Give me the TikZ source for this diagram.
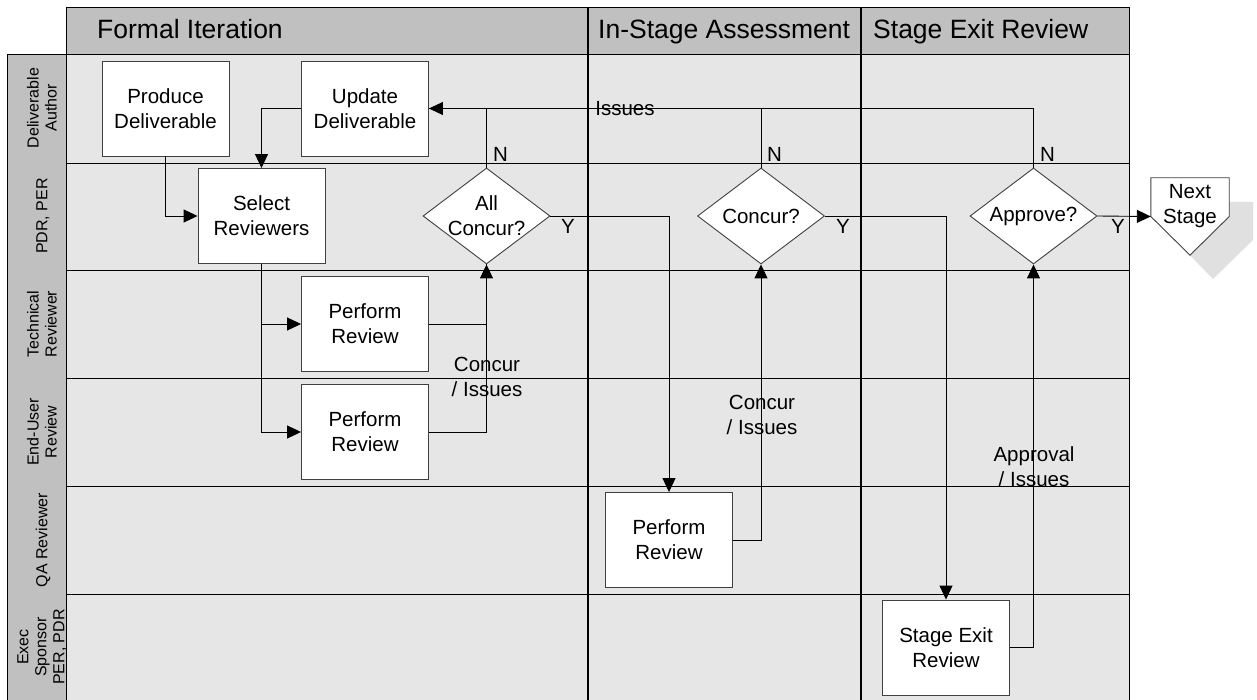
\documentclass[tikz,border=0pt]{standalone}
\usepackage{fontspec}
\setmainfont{Liberation Sans}
\usetikzlibrary{arrows.meta,shapes.geometric}
\definecolor{hdr}{HTML}{C0C0C0}
\definecolor{lanebg}{HTML}{E6E6E6}
\definecolor{bord}{HTML}{404040}
\definecolor{shad}{HTML}{E0E0E0}
\begin{document}
\begin{tikzpicture}[x=1pt,y=-1pt,
  box/.style={draw=bord, fill=white, line width=0.9pt, minimum width=127pt, minimum height=95pt, inner sep=0pt, align=center, font=\fontsize{20.5}{25}\selectfont},
  dia/.style={diamond, draw=bord, fill=white, line width=0.9pt, minimum width=127pt, minimum height=96pt, inner sep=0pt},
  txt/.style={align=center, font=\fontsize{20.5}{25}\selectfont, inner sep=0pt},
  lanelbl/.style={rotate=90, align=center, font=\fontsize{16}{18}\selectfont, inner sep=0pt},
  hdrtxt/.style={anchor=base west, font=\fontsize{26.5}{30}\selectfont, inner sep=0pt},
  conn/.style={line width=0.9pt, -{Triangle[length=14pt,width=13pt]}},
  plainln/.style={line width=0.9pt}
]
\useasboundingbox (0,0) rectangle (1257,700);
% backgrounds
\fill[lanebg] (66,54) rectangle (1129,705);
\filldraw[fill=hdr, draw=black, line width=0.8pt] (66,7) rectangle (1129,54);
\filldraw[fill=hdr, draw=black, line width=0.8pt] (7,54) rectangle (66,705);
\foreach \yy in {163,270,378,486,594} \draw[line width=0.8pt] (66,\yy) -- (1129,\yy);
\draw[line width=0.8pt] (1129,54) -- (1129,705);
\draw[line width=1.8pt] (588,7) -- (588,705);
\draw[line width=1.8pt] (861,7) -- (861,705);
% headers
\node[hdrtxt] (h1) at (97,39) {Formal Iteration};
\node[hdrtxt] (h2) at (598,39) {In-Stage Assessment};
\node[hdrtxt] (h3) at (873,39) {Stage Exit Review};
% lane labels
\node[lanelbl] (l1) at (42,108) {Deliverable\\Author};
\node[lanelbl] (l2) at (43,216) {PDR, PER};
\node[lanelbl] (l3) at (42,324) {Technical\\Reviewer};
\node[lanelbl] (l4) at (42,432) {End-User\\Review};
\node[lanelbl] (l5) at (43,540) {QA Reviewer};
\node[lanelbl] (l6) at (42,647) {Exec\\Sponsor\\PER, PDR};
% shadow of off-page connector
\fill[shad] (1175,202) -- (1253,202) -- (1253,240) -- (1213,279) -- (1175,240) -- cycle;
% boxes
\node[box] (prod) at (165.5,108.5) {Produce\\Deliverable};
\node[box] (upd) at (365,108.5) {Update\\Deliverable};
\node[box] (sel) at (261.5,216) {Select\\Reviewers};
\node[box] (tech) at (365,324) {Perform\\Review};
\node[box] (eu) at (365,432) {Perform\\Review};
\node[box] (qa) at (669,540) {Perform\\Review};
\node[box] (sex) at (946,647.5) {Stage Exit\\Review};
% decisions
\node[dia, label={[txt]center:All\\Concur?}] (allc) at (486.5,216) {};
\node[dia, label={[txt]center:Concur?}] (conc) at (761,216) {};
\node[dia, label={[txt]center:Approve?}] (appr) at (1033.5,216) {};
% next stage
\node[minimum width=78pt, minimum height=77pt, inner sep=0pt] (next) at (1190,216.5) {};
\filldraw[fill=white, draw=bord, line width=0.9pt] (next.north west) -- (next.north east) -- (next.east) -- (next.south) -- (next.west) -- cycle;
\node[txt] (nexttxt) at (1190,206) {Next\\Stage};
% connectors
\draw[conn] (prod.south) |- (sel.west);
\draw[conn] (upd.west) -| (sel.north);
\draw[conn] (sel.south) |- (tech.west);
\draw[conn] (sel.south) |- (eu.west);
\draw[conn] (tech.east) -| (allc.south);
\draw[plainln] (eu.east) -| (allc.south);
\draw[plainln] (allc.north) |- (upd.east);
\draw[plainln] (conc.north) |- (upd.east);
\draw[conn] (appr.north) |- (upd.east);
\draw[conn] (allc.east) -| (qa.north);
\draw[conn] (conc.east) -| (sex.north);
\draw[conn] (appr.east) -- (next.west);
\draw[conn] (qa.east) -| (conc.south);
\draw[conn] (sex.east) -| (appr.south);
% labels
\node[txt] (iss) at (625,109) {Issues};
\node[txt, anchor=base west] (n1) at (493,162) {N};
\node[txt, anchor=base west] (n2) at (767,162) {N};
\node[txt, anchor=base west] (n3) at (1040,162) {N};
\node[txt] (y1) at (568,226) {Y};
\node[txt] (y2) at (843,226) {Y};
\node[txt] (y3) at (1118,226) {Y};
\node[txt] (ci1) at (487,377) {Concur\\/ Issues};
\node[txt] (ci2) at (762,415) {Concur\\/ Issues};
\node[txt] (ai) at (1034,467) {Approval\\/ Issues};
\end{tikzpicture}
\end{document}
